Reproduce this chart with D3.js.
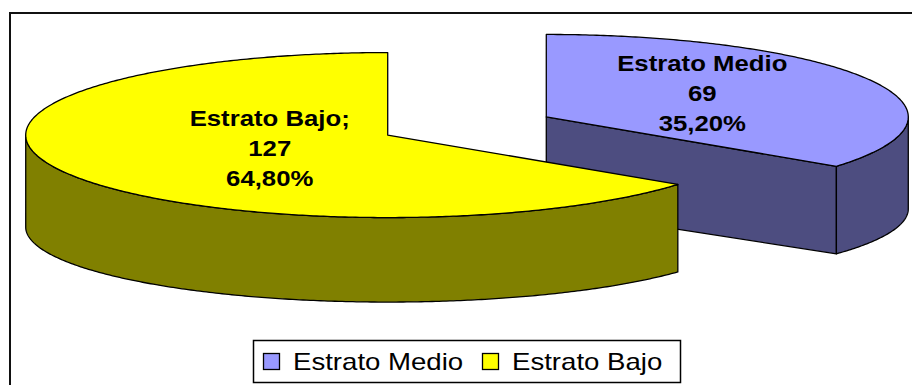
<!DOCTYPE html>
<html>
<head>
<meta charset="utf-8">
<script src="https://cdn.jsdelivr.net/npm/d3@7/dist/d3.min.js"></script>
<style>
  html, body { margin: 0; padding: 0; background: #fff; }
  svg { display: block; }
</style>
</head>
<body>
<svg id="chart" width="912" height="385"></svg>
<script>
// Strata counts
const categories = ["Estrato Medio", "Estrato Bajo"];
const values = [69, 127];
const labelSuffix = ["", ";"];           // separator drawn after the category name
const topColors = ["#9999FF", "#FFFF00"];
const sideColors = ["#4D4D80", "#808000"];

const W = 912, H = 385;
const svg = d3.select("#chart");

// 3D pie geometry (top face ellipse, bottom face slightly flatter for perspective)
const cx = 467, cy = 126;
const rx = 362, ry = 82.5;
const depth = 92, ryB = 75;
const explode = 0.245;

// outer frame of the chart area
svg.append("rect")
  .attr("x", 10).attr("y", 13)
  .attr("width", W + 20).attr("height", H + 20)
  .attr("fill", "#fff").attr("stroke", "#111").attr("stroke-width", 2);

const total = d3.sum(values);
const pie = d3.pie().sort(null).startAngle(0).endAngle(2 * Math.PI);
const arcs = pie(values).map((d, i) => {
  const mid = (d.startAngle + d.endAngle) / 2;
  return {
    ...d, i,
    c: { x: cx + explode * rx * Math.sin(mid), y: cy - explode * ry * Math.cos(mid) }
  };
});

const topPt = (c, a) => [c.x + rx * Math.sin(a), c.y - ry * Math.cos(a)];
const botPt = (c, a) => [c.x + rx * Math.sin(a), c.y + depth - ryB * Math.cos(a)];
const sample = (a0, a1) => {
  const n = Math.max(2, Math.ceil(Math.abs(a1 - a0) / 0.01));
  return d3.range(n + 1).map(k => a0 + (a1 - a0) * k / n);
};
const line = d3.line();
const stroke = { color: "#000", width: 1.3 };

const g = svg.append("g").attr("stroke-linejoin", "round");

// back-to-front: slices whose centre sits higher are drawn first
arcs.slice().sort((a, b) => a.c.y - b.c.y).forEach(d => {
  const c = d.c, a0 = d.startAngle, a1 = d.endAngle;

  // radial side faces facing the viewer
  [[a1, Math.sin(a1) > 1e-6], [a0, Math.sin(a0) < -1e-6]].forEach(([a, vis]) => {
    if (!vis) return;
    const pts = [[c.x, c.y], topPt(c, a), botPt(c, a), [c.x, c.y + depth - 0]];
    pts[3] = [c.x, c.y + depth];
    g.append("path").attr("d", line(pts) + "Z")
      .attr("fill", sideColors[d.i]).attr("stroke", stroke.color).attr("stroke-width", stroke.width);
  });

  // curved outer wall on the front half
  const f0 = Math.max(a0, Math.PI / 2), f1 = Math.min(a1, 3 * Math.PI / 2);
  if (f1 > f0) {
    const ang = sample(f0, f1);
    const pts = ang.map(a => topPt(c, a)).concat(ang.slice().reverse().map(a => botPt(c, a)));
    g.append("path").attr("d", line(pts) + "Z")
      .attr("fill", sideColors[d.i]).attr("stroke", stroke.color).attr("stroke-width", stroke.width);
  }

  // top face
  const topPts = [[c.x, c.y]].concat(sample(a0, a1).map(a => topPt(c, a)));
  g.append("path").attr("d", line(topPts) + "Z")
    .attr("fill", topColors[d.i]).attr("stroke", stroke.color).attr("stroke-width", stroke.width);
});

// data labels: name, value, share
const labelOffset = [{ dx: 156, dy: -46 }, { dx: -118, dy: -9 }];
const pct = v => (v / total * 100).toFixed(2).replace(".", ",") + "%";
arcs.forEach(d => {
  const o = labelOffset[d.i];
  const t = svg.append("g")
    .attr("transform", `translate(${d.c.x + o.dx},${d.c.y + o.dy}) scale(1.17,1)`);
  const lines = [categories[d.i] + labelSuffix[d.i], String(values[d.i]), pct(values[d.i])];
  lines.forEach((s, k) => {
    t.append("text")
      .attr("x", 0).attr("y", k * 30)
      .attr("text-anchor", "middle")
      .attr("font-family", "'Liberation Sans', Arial, sans-serif")
      .attr("font-weight", "bold").attr("font-size", 22)
      .attr("fill", "#000")
      .text(s);
  });
});

// legend
const legend = svg.append("g");
legend.append("rect")
  .attr("x", 253.5).attr("y", 340.5).attr("width", 427).attr("height", 42)
  .attr("fill", "#fff").attr("stroke", "#000").attr("stroke-width", 1.5);
const legendX = [263.5, 482.5];
categories.forEach((name, i) => {
  legend.append("rect")
    .attr("x", legendX[i]).attr("y", 353.5).attr("width", 16).attr("height", 16)
    .attr("fill", topColors[i]).attr("stroke", "#000").attr("stroke-width", 1.3);
  legend.append("g")
    .attr("transform", `translate(${legendX[i] + 29.5},370) scale(1.2,1)`)
    .append("text")
    .attr("font-family", "'Liberation Sans', Arial, sans-serif")
    .attr("font-size", 23).attr("fill", "#000")
    .text(name);
});
</script>
</body>
</html>
